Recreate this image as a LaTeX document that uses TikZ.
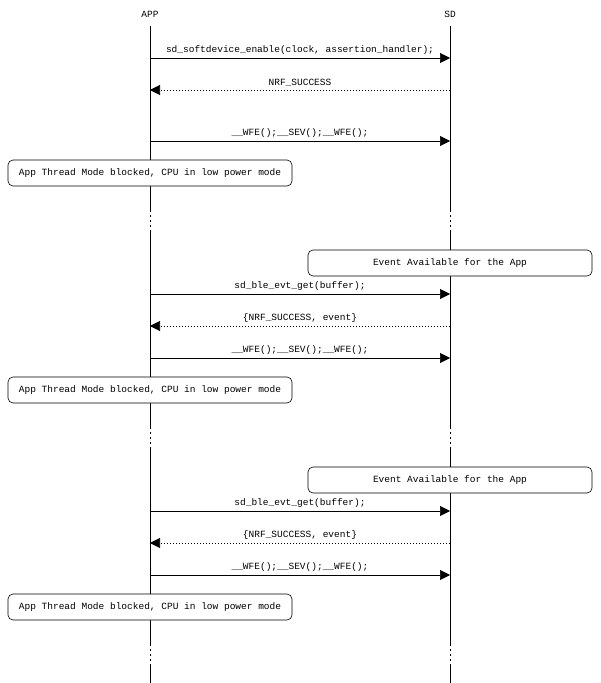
\documentclass[tikz,border=0pt]{standalone}
\usepackage{fontspec}
\setmonofont{Liberation Mono}
\usetikzlibrary{arrows.meta}
\begin{document}
\begin{tikzpicture}[x=1pt,y=-1pt,
  txt/.style={font=\ttfamily\fontsize{9.5}{10}\selectfont,inner sep=0pt},
  msg/.style={line width=0.6pt,-{Triangle[length=10pt,width=10pt]}},
  ret/.style={msg,dash pattern=on 1.5pt off 1.5pt},
  life/.style={line width=0.6pt},
  gap/.style={line width=0.6pt,dash pattern=on 2pt off 3pt},
  box/.style={draw,line width=0.6pt,rounded corners=5pt,minimum width=284pt,minimum height=26pt,txt}]
\useasboundingbox (0,0) rectangle (600,683);
\node[txt] (app) at (150,14) {APP};
\node[txt] (sd) at (450,14) {SD};
% lifelines
\foreach \n/\x in {a/150,s/450}{
  \coordinate (\n0) at (\x,26); \coordinate (\n1) at (\x,210);
  \coordinate (\n2) at (\x,232); \coordinate (\n3) at (\x,427);
  \coordinate (\n4) at (\x,449); \coordinate (\n5) at (\x,644);
  \coordinate (\n6) at (\x,666); \coordinate (\n7) at (\x,683);
  \draw[life] (\n0)--(\n1); \draw[gap] (\n1)--(\n2); \draw[life] (\n2)--(\n3);
  \draw[gap] (\n3)--(\n4); \draw[life] (\n4)--(\n5); \draw[gap] (\n5)--(\n6);
  \draw[life] (\n6)--(\n7);
}
% rows
\foreach \r/\y in {m1/58,r1/90,w1/141,g1/294,r2/326,w2/358,g2/511,r3/543,w3/575}{
  \coordinate (a\r) at (150,\y); \coordinate (s\r) at (450,\y);
}
\draw[msg] (am1)--node[txt,above=3pt]{sd\_softdevice\_enable(clock, assertion\_handler);} (sm1);
\draw[ret] (sr1)--node[txt,above=3pt]{NRF\_SUCCESS} (ar1);
\draw[msg] (aw1)--node[txt,above=3pt]{\_\_WFE();\_\_SEV();\_\_WFE();} (sw1);
\node[box,fill=white] (b1) at (150,173) {App Thread Mode blocked, CPU in low power mode};
\node[box,fill=white] (e1) at (450,263) {Event Available for the App};
\draw[msg] (ag1)--node[txt,above=3pt]{sd\_ble\_evt\_get(buffer);} (sg1);
\draw[ret] (sr2)--node[txt,above=3pt]{\{NRF\_SUCCESS, event\}} (ar2);
\draw[msg] (aw2)--node[txt,above=3pt]{\_\_WFE();\_\_SEV();\_\_WFE();} (sw2);
\node[box,fill=white] (b2) at (150,390) {App Thread Mode blocked, CPU in low power mode};
\node[box,fill=white] (e2) at (450,480) {Event Available for the App};
\draw[msg] (ag2)--node[txt,above=3pt]{sd\_ble\_evt\_get(buffer);} (sg2);
\draw[ret] (sr3)--node[txt,above=3pt]{\{NRF\_SUCCESS, event\}} (ar3);
\draw[msg] (aw3)--node[txt,above=3pt]{\_\_WFE();\_\_SEV();\_\_WFE();} (sw3);
\node[box,fill=white] (b3) at (150,607) {App Thread Mode blocked, CPU in low power mode};
\end{tikzpicture}
\end{document}
